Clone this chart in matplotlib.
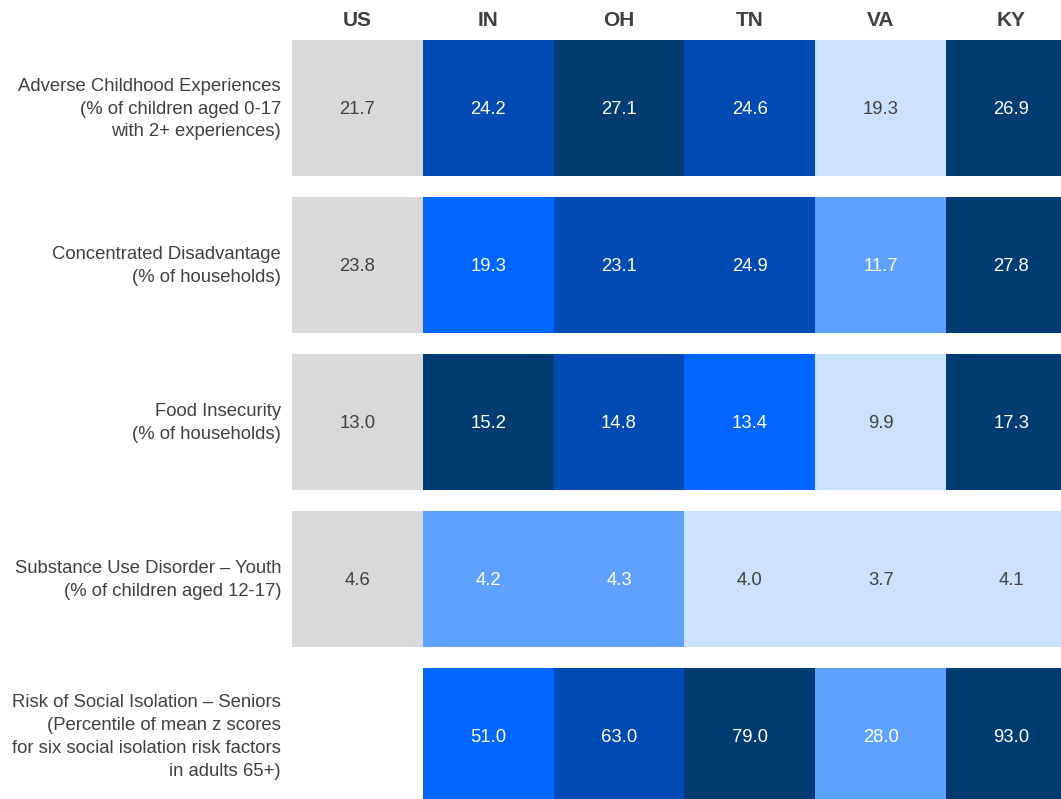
import matplotlib.pyplot as plt
from matplotlib.patches import Rectangle

states = ["US", "IN", "OH", "TN", "VA", "KY"]
row_labels = [
    "Adverse Childhood Experiences\n(% of children aged 0-17\nwith 2+ experiences)",
    "Concentrated Disadvantage\n(% of households)",
    "Food Insecurity\n(% of households)",
    "Substance Use Disorder \u2013 Youth\n(% of children aged 12-17)",
    "Risk of Social Isolation \u2013 Seniors\n(Percentile of mean z scores\nfor six social isolation risk factors\nin adults 65+)",
]
values = [
    [21.7, 24.2, 27.1, 24.6, 19.3, 26.9],
    [23.8, 19.3, 23.1, 24.9, 11.7, 27.8],
    [13.0, 15.2, 14.8, 13.4, 9.9, 17.3],
    [4.6, 4.2, 4.3, 4.0, 3.7, 4.1],
    [None, 51.0, 63.0, 79.0, 28.0, 93.0],
]
# colour level per cell: 0 = US grey, 1 = very light, 2 = light, 3 = bright, 4 = mid, 5 = dark
levels = [
    [0, 4, 5, 4, 1, 5],
    [0, 3, 4, 4, 2, 5],
    [0, 5, 4, 3, 1, 5],
    [0, 2, 2, 1, 1, 1],
    [None, 3, 4, 5, 2, 5],
]

PALETTE = {0: "#d9d9d9", 1: "#cce0ff", 2: "#5fa1ff", 3: "#0066ff", 4: "#004bb3", 5: "#003b72"}
TEXT_DARK = "#404040"

plt.rcParams["font.family"] = ["Liberation Sans", "DejaVu Sans"]

# layout in pixels: row pitch 157, first row centre at 107.5, column pitch 130.8
PITCH = 157.0
FIRST = 107.5
fig = plt.figure(figsize=(10.61, 7.99), dpi=100)
ax = fig.add_axes([292 / 1061, 0, 1 - 292 / 1061, 1])
ax.set_xlim(-0.5, 5.379)
ax.set_ylim((799 - FIRST) / PITCH, -FIRST / PITCH)
ax.axis("off")

cell_h = 136 / PITCH
for i, row in enumerate(values):
    for j, v in enumerate(row):
        lvl = levels[i][j]
        if lvl is None:
            continue
        ax.add_patch(Rectangle((j - 0.5, i - cell_h / 2), 1.0, cell_h,
                               facecolor=PALETTE[lvl], edgecolor="none"))
        if v is not None:
            color = TEXT_DARK if lvl in (0, 1) else "white"
            ax.text(j, i + 0.01, f"{v:.1f}", ha="center", va="center", fontsize=13.3, color=color)

for j, s in enumerate(states):
    ax.text(j, -0.555, s, ha="center", va="center", fontsize=15, fontweight="bold",
            color=TEXT_DARK, family=["Liberation Sans Narrow", "Liberation Sans"], clip_on=False)

for i, lab in enumerate(row_labels):
    ax.text(-0.584, i + 0.01, lab, ha="right", va="center", fontsize=13.3, color=TEXT_DARK,
            multialignment="right", linespacing=1.45, clip_on=False)

fig.savefig("out.png", dpi=100)
